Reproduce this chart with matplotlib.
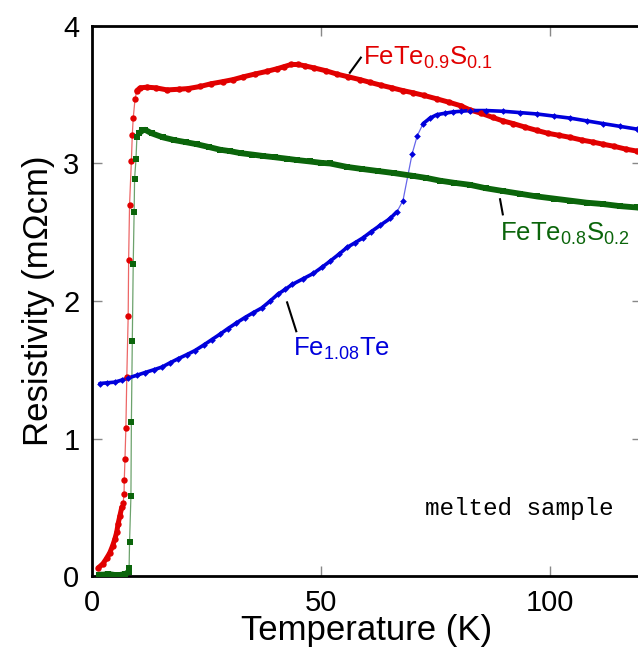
import matplotlib.pyplot as plt
import numpy as np

plt.rcParams["font.family"] = ["Liberation Sans", "DejaVu Sans"]
plt.rcParams["mathtext.default"] = "regular"

# FeTe0.9S0.1 (red)
T_red = [1.4, 2.4, 3.2, 3.9, 4.5, 5.0, 5.4, 5.7, 6.1, 6.5, 6.8, 7.0, 7.05, 7.2, 7.4,
         7.6, 7.9, 8.0, 8.2, 8.6, 8.8, 9.0, 9.4, 9.8, 10.5, 12, 14, 16.4, 19, 21,
         23.6, 26, 28.5, 30.8, 33, 35.5, 38.2, 40.5, 42, 43.5, 45, 46.5, 48.5, 51,
         53.5, 56, 58.5, 60.7, 63, 65.5, 67.9, 70, 72.5, 75.3, 78, 80.5, 82.5, 85,
         87.5, 89.7, 92, 94.5, 97.2, 99.5, 102, 104.4, 107, 109.5, 111.6, 114,
         116.5, 119, 121]
R_red = [0.06, 0.09, 0.13, 0.17, 0.22, 0.27, 0.32, 0.38, 0.44, 0.50, 0.53, 0.60, 0.70,
         0.85, 1.08, 1.45, 1.89, 2.30, 2.70, 3.02, 3.21, 3.33, 3.47, 3.53, 3.55,
         3.555, 3.55, 3.535, 3.54, 3.545, 3.56, 3.58, 3.595, 3.61, 3.63, 3.65, 3.67,
         3.69, 3.705, 3.72, 3.72, 3.71, 3.695, 3.675, 3.65, 3.63, 3.61, 3.59, 3.57,
         3.55, 3.53, 3.515, 3.495, 3.47, 3.445, 3.42, 3.39, 3.365, 3.335, 3.31,
         3.29, 3.265, 3.24, 3.22, 3.205, 3.19, 3.17, 3.155, 3.14, 3.125, 3.105,
         3.09, 3.075]

# Fe1.08Te (blue)
T_blue = [1.7, 3.3, 5.0, 6.5, 7.9, 9.8, 11.6, 13.5, 15.3, 17, 18.8, 20.7, 22.5, 24.4,
          26.2, 28, 29.7, 31.5, 33.4, 35.2, 37.1, 38.9, 40.6, 42.2, 43.7, 46, 48.3,
          50.2, 52, 53.9, 55.7, 57.5, 59.2, 61, 62.9, 65.1, 66.6, 67.9, 69.9, 71,
          72.3, 73.8, 75.3, 77, 78.8, 80.6, 82.5, 86, 89.7, 93.5, 97.2, 100.8, 104.4,
          108, 111.6, 115.3, 119, 121]
R_blue = [1.40, 1.405, 1.41, 1.425, 1.44, 1.46, 1.48, 1.50, 1.52, 1.55, 1.58, 1.61,
          1.64, 1.68, 1.72, 1.76, 1.80, 1.84, 1.88, 1.915, 1.95, 2.00, 2.05, 2.085,
          2.12, 2.16, 2.20, 2.245, 2.29, 2.34, 2.39, 2.425, 2.46, 2.505, 2.55, 2.60,
          2.65, 2.73, 3.07, 3.20, 3.29, 3.33, 3.355, 3.365, 3.375, 3.38, 3.385,
          3.385, 3.38, 3.37, 3.36, 3.345, 3.33, 3.31, 3.29, 3.27, 3.25, 3.24]

# FeTe0.8S0.2 (green)
T_green = [1.5, 2.5, 3.5, 4.5, 5.5, 6.5, 7.3, 8.0, 8.1, 8.2, 8.5, 8.6, 8.8, 9.0, 9.2,
           9.3, 9.6, 9.8, 10.3, 11.0, 11.6, 13, 15.5, 18, 20.5, 22.9, 25.5, 28, 30.1,
           32.5, 35, 37.3, 40, 42.5, 44.8, 47.5, 50, 52, 55.7, 59, 62.5, 66, 70.1,
           73, 76, 79, 82.5, 86, 89.7, 93.5, 97.2, 100.8, 104.4, 108, 111.6, 115.3,
           119, 121]
R_green = [0.01, 0.01, 0.015, 0.01, 0.005, 0.01, 0.015, 0.03, 0.06, 0.25, 0.58, 1.12,
           1.71, 2.27, 2.65, 2.89, 3.03, 3.19, 3.22, 3.24, 3.245, 3.22, 3.19, 3.17,
           3.155, 3.14, 3.12, 3.10, 3.09, 3.075, 3.065, 3.055, 3.045, 3.035, 3.025,
           3.015, 3.005, 3.0, 2.975, 2.96, 2.945, 2.93, 2.91, 2.895, 2.875, 2.86,
           2.845, 2.82, 2.80, 2.78, 2.76, 2.745, 2.73, 2.715, 2.705, 2.69, 2.68, 2.67]

RED = "#e10000"
BLUE = "#0000dc"
GREEN = "#0b650b"

fig = plt.figure(figsize=(6.38, 6.53), dpi=100)
ax = fig.add_axes([0.1442, 0.1179, 0.8614, 0.8423])


def draw(T, R, color, marker, ms, band, band_mask):
    T = np.array(T)
    R = np.array(R)
    ax.plot(T, R, "-", color=color, lw=0.9, alpha=0.6, zorder=2)
    # dense measurement stretches look like a solid band
    seg = np.where(band_mask(T), R, np.nan)
    ax.plot(T, seg, "-", color=color, lw=band, solid_capstyle="round", zorder=3)
    ax.plot(T, R, linestyle="none", marker=marker, ms=ms, color=color,
            markeredgewidth=0, zorder=4)


draw(T_red, R_red, RED, "o", 4.6, 3.6, lambda t: (t > 9.5) | (t < 6.6))
draw(T_green, R_green, GREEN, "s", 4.6, 4.2, lambda t: (t > 9.9) | (t < 8.05))
draw(T_blue, R_blue, BLUE, "D", 3.4, 2.6, lambda t: (t < 67) | (t > 71.5))

ax.set_xlim(0, 120)
ax.set_ylim(0, 4)
ax.set_xticks([0, 50, 100])
ax.set_yticks([0, 1, 2, 3, 4])
ax.tick_params(direction="in", length=7, width=1, color="#888888",
               top=True, right=True, labelsize=21, pad=9)
for s in ax.spines.values():
    s.set_linewidth(2)
ax.set_xlabel("Temperature (K)", fontsize=25, labelpad=-2)
ax.set_ylabel("Resistivity (m\u03a9cm)", fontsize=25, labelpad=6)

# labels with leader lines
ax.plot([56.3, 58.7], [3.66, 3.77], color="black", lw=1.5)
ax.text(59.2, 3.72, "FeTe$_{0.9}$S$_{0.1}$", color=RED, fontsize=18.5, va="baseline")
ax.plot([42.6, 44.6], [1.99, 1.78], color="black", lw=1.5)
ax.text(43.9, 1.60, "Fe$_{1.08}$Te", color=BLUE, fontsize=18.5, va="baseline")
ax.plot([89.1, 89.7], [2.74, 2.63], color="black", lw=1.5)
ax.text(89.1, 2.44, "FeTe$_{0.8}$S$_{0.2}$", color=GREEN, fontsize=18.5, va="baseline")
ax.text(72.7, 0.49, "melted sample", fontsize=17.5, family="Liberation Mono",
        va="center")

fig.savefig("out.png", dpi=100)
